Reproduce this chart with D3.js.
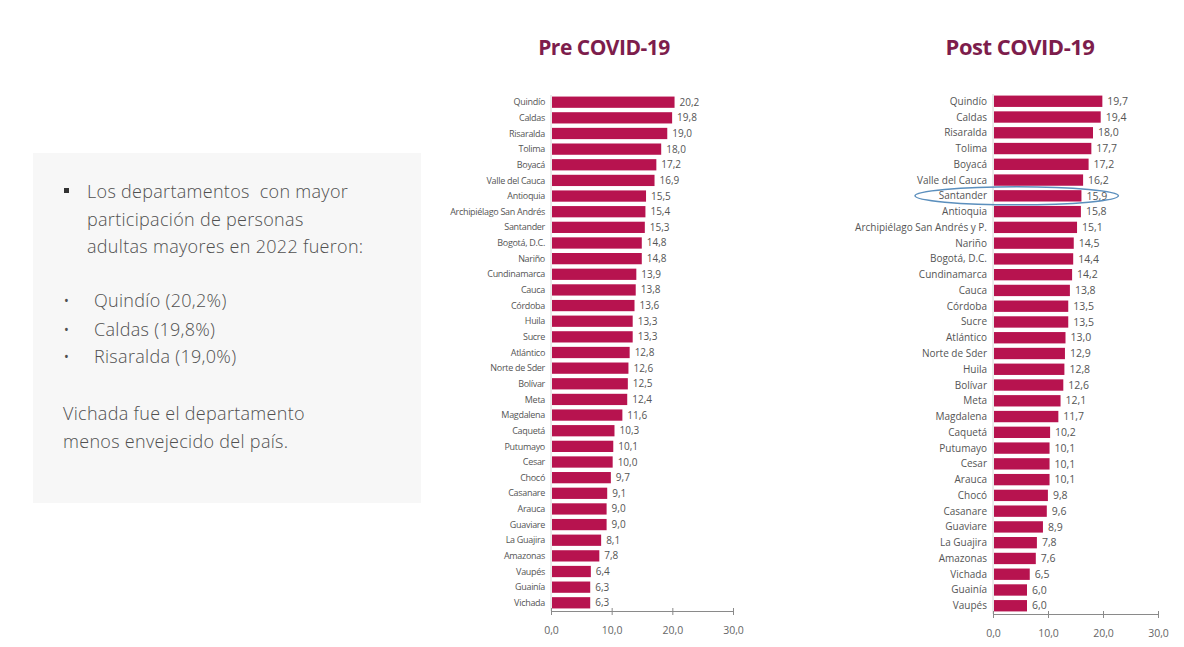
<!DOCTYPE html>
<html>
<head>
<meta charset="utf-8">
<script src="https://cdn.jsdelivr.net/npm/d3@7"></script>
<style>
  body { margin: 0; background: #fff; }
  svg text { font-family: "Open Sans", "DejaVu Sans", sans-serif; }
</style>
</head>
<body>
<div class="canvas"></div>
<script>
// data
const preDeps = ['Quindío', 'Caldas', 'Risaralda', 'Tolima', 'Boyacá', 'Valle del Cauca', 'Antioquia',
  'Archipiélago San Andrés', 'Santander', 'Bogotá, D.C.', 'Nariño', 'Cundinamarca', 'Cauca', 'Córdoba',
  'Huila', 'Sucre', 'Atlántico', 'Norte de Sder', 'Bolívar', 'Meta', 'Magdalena', 'Caquetá', 'Putumayo',
  'Cesar', 'Chocó', 'Casanare', 'Arauca', 'Guaviare', 'La Guajira', 'Amazonas', 'Vaupés', 'Guainía', 'Vichada'];
const preValues = [20.2, 19.8, 19.0, 18.0, 17.2, 16.9, 15.5, 15.4, 15.3, 14.8, 14.8, 13.9, 13.8, 13.6,
  13.3, 13.3, 12.8, 12.6, 12.5, 12.4, 11.6, 10.3, 10.1, 10.0, 9.7, 9.1, 9.0, 9.0, 8.1, 7.8, 6.4, 6.3, 6.3];

const postDeps = ['Quindío', 'Caldas', 'Risaralda', 'Tolima', 'Boyacá', 'Valle del Cauca', 'Santander',
  'Antioquia', 'Archipiélago San Andrés y P.', 'Nariño', 'Bogotá, D.C.', 'Cundinamarca', 'Cauca', 'Córdoba',
  'Sucre', 'Atlántico', 'Norte de Sder', 'Huila', 'Bolívar', 'Meta', 'Magdalena', 'Caquetá', 'Putumayo',
  'Cesar', 'Arauca', 'Chocó', 'Casanare', 'Guaviare', 'La Guajira', 'Amazonas', 'Vichada', 'Guainía', 'Vaupés'];
const postValues = [19.7, 19.4, 18.0, 17.7, 17.2, 16.2, 15.9, 15.8, 15.1, 14.5, 14.4, 14.2, 13.8, 13.5,
  13.5, 13.0, 12.9, 12.8, 12.6, 12.1, 11.7, 10.2, 10.1, 10.1, 10.1, 9.8, 9.6, 8.9, 7.8, 7.6, 6.5, 6.0, 6.0];

const xTicks = [0, 10, 20, 30];
const titles = ['Pre COVID-19', 'Post COVID-19'];

const barColor = '#b7134f';
const fmt = v => d3.format('.1f')(v).replace('.', ',');

const svg = d3.select('.canvas')
  .append('svg')
  .attr('width', 1184)
  .attr('height', 647);

svg.append('rect').attr('width', 1184).attr('height', 647).attr('fill', '#fff');

// text box on the left
const box = svg.append('g');
box.append('rect')
  .attr('x', 33).attr('y', 153)
  .attr('width', 388).attr('height', 350)
  .attr('fill', '#f7f7f7');

const boxText = (x, y, t) => box.append('text')
  .attr('x', x).attr('y', y)
  .attr('fill', '#505050')
  .style('font-size', '18px')
  .style('font-weight', 300)
  .style('letter-spacing', '0.3px')
  .style('white-space', 'pre')
  .text(t);

box.append('rect').attr('x', 64).attr('y', 188).attr('width', 5).attr('height', 5).attr('fill', '#333');
boxText(87, 198, 'Los departamentos  con mayor');
boxText(87, 226, 'participación de personas');
boxText(87, 253, 'adultas mayores en 2022 fueron:');
boxText(63, 307, '•');
boxText(94, 307, 'Quindío (20,2%)');
boxText(63, 336, '•');
boxText(94, 336, 'Caldas (19,8%)');
boxText(63, 363, '•');
boxText(94, 363, 'Risaralda (19,0%)');
boxText(63, 420, 'Vichada fue el departamento');
boxText(63, 448, 'menos envejecido del país.');

// one bar chart
function drawChart(cfg) {
  const data = cfg.deps.map((d, i) => ({ name: d, value: cfg.values[i] }));

  const x = d3.scaleLinear().domain([0, 30]).range(cfg.xRange);
  const y = d3.scaleBand()
    .domain(cfg.deps)
    .range(cfg.yRange)
    .paddingInner(0.28)
    .paddingOuter(0.1);

  const g = svg.append('g');

  g.append('text')
    .attr('x', cfg.titleX).attr('y', 55)
    .attr('text-anchor', 'middle')
    .attr('fill', '#7d1d4c')
    .style('font-size', cfg.titleSize)
    .style('font-weight', 700)
    .style('letter-spacing', '-0.5px')
    .text(cfg.title);

  // vertical base line
  g.append('line')
    .attr('x1', x(0)).attr('x2', x(0))
    .attr('y1', cfg.yRange[0]).attr('y2', cfg.axisY)
    .attr('stroke', '#d6d6d6');

  g.selectAll('rect.bar')
    .data(data)
    .enter()
    .append('rect')
    .attr('class', 'bar')
    .attr('x', x(0) + 1)
    .attr('y', d => y(d.name))
    .attr('width', d => x(d.value) - x(0))
    .attr('height', y.bandwidth())
    .attr('fill', barColor);

  g.selectAll('text.cat')
    .data(data)
    .enter()
    .append('text')
    .attr('class', 'cat')
    .attr('x', x(0) - 6)
    .attr('y', d => y(d.name) + y.bandwidth() / 2)
    .attr('dy', '0.35em')
    .attr('text-anchor', 'end')
    .attr('fill', '#555')
    .style('font-size', cfg.labelSize)
    .style('letter-spacing', cfg.labelSpacing)
    .text(d => d.name);

  g.selectAll('text.val')
    .data(data)
    .enter()
    .append('text')
    .attr('class', 'val')
    .attr('x', d => x(d.value) + 6)
    .attr('y', d => y(d.name) + y.bandwidth() / 2)
    .attr('dy', '0.35em')
    .attr('fill', '#555')
    .style('font-size', cfg.valueSize)
    .text(d => fmt(d.value));

  const xAxis = d3.axisBottom(x)
    .tickValues(xTicks)
    .tickSizeInner(4)
    .tickSizeOuter(0)
    .tickPadding(12)
    .tickFormat(fmt);

  const axisG = g.append('g')
    .attr('transform', `translate(0, ${cfg.axisY})`)
    .call(xAxis);
  axisG.select('.domain').attr('stroke', '#8a8a8a');
  axisG.selectAll('.tick line').attr('stroke', '#8a8a8a').attr('y1', -3);
  axisG.selectAll('.tick text')
    .attr('fill', '#666')
    .style('font-size', '10.5px')
    .style('font-family', '"Open Sans", sans-serif');

  return { x, y, g };
}

drawChart({
  deps: preDeps, values: preValues, title: titles[0],
  xRange: [551, 733], yRange: [95, 610], axisY: 611,
  titleX: 604, titleSize: '21px',
  labelSize: '9px', labelSpacing: '-0.3px', valueSize: '10px'
});

const post = drawChart({
  deps: postDeps, values: postValues, title: titles[1],
  xRange: [993, 1158], yRange: [94, 613], axisY: 614,
  titleX: 1020, titleSize: '22px',
  labelSize: '10px', labelSpacing: '0px', valueSize: '10.5px'
});

// highlight ellipse round Santander
const sy = post.y('Santander') + post.y.bandwidth() / 2;
const left = post.x(0) - 78;
const right = post.x(22.8);
post.g.append('ellipse')
  .attr('cx', (left + right) / 2)
  .attr('cy', sy)
  .attr('rx', (right - left) / 2)
  .attr('ry', 9)
  .attr('fill', 'none')
  .attr('stroke', '#5b8fbd')
  .attr('stroke-width', 1.5);
</script>
</body>
</html>
